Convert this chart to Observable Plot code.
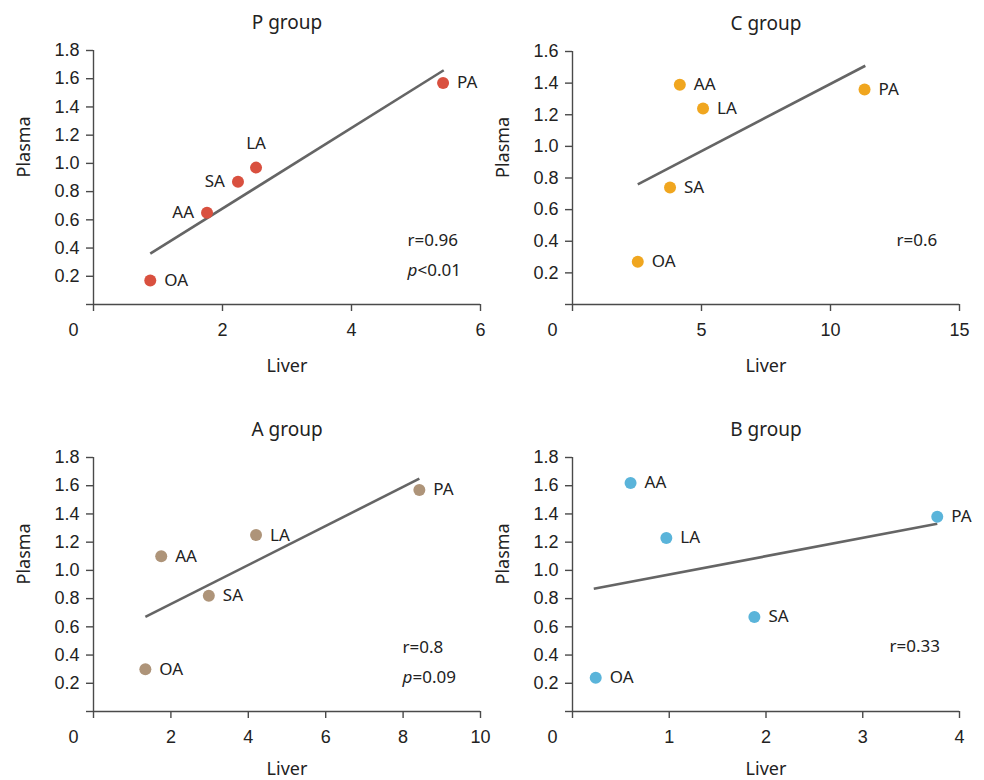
<!DOCTYPE html>
<html><head><meta charset="utf-8">
<script src="https://cdn.jsdelivr.net/npm/d3@7"></script>
<script src="https://cdn.jsdelivr.net/npm/@observablehq/plot@0.6"></script>
<style>
html,body{margin:0;padding:0;background:#fff;}
#wrap{position:relative;width:984px;height:780px;overflow:hidden;background:#fff;}
.panel{position:absolute;}
</style></head><body><div id="wrap"></div>
<script>
// ---- data ----
const acids = ["OA", "AA", "SA", "LA", "PA"];
const groupNames = ["P group", "C group", "A group", "B group"];

const pLiver  = [0.88, 1.76, 2.24, 2.52, 5.42];
const pPlasma = [0.17, 0.65, 0.87, 0.97, 1.57];
const cLiver  = [2.53, 4.16, 3.78, 5.06, 11.32];
const cPlasma = [0.27, 1.39, 0.74, 1.24, 1.36];
const aLiver  = [1.34, 1.75, 2.98, 4.20, 8.42];
const aPlasma = [0.30, 1.10, 0.82, 1.25, 1.57];
const bLiver  = [0.24, 0.60, 1.88, 0.97, 3.77];
const bPlasma = [0.24, 1.62, 0.67, 1.23, 1.38];

// fitted line end points [start, end]
const pFitLiver = [0.88, 5.43], pFitPlasma = [0.36, 1.66];
const cFitLiver = [2.53, 11.35], cFitPlasma = [0.76, 1.51];
const aFitLiver = [1.34, 8.42], aFitPlasma = [0.67, 1.65];
const bFitLiver = [0.22, 3.77], bFitPlasma = [0.87, 1.33];

const rTexts = ["r=0.96", "r=0.6", "r=0.8", "r=0.33"];
const pTexts = ["<0.01", null, "=0.09", null];

const pXTicks = [0, 2, 4, 6];
const cXTicks = [0, 5, 10, 15];
const aXTicks = [0, 2, 4, 6, 8, 10];
const bXTicks = [0, 1, 2, 3, 4];
const yTicks18 = [0, 0.2, 0.4, 0.6, 0.8, 1.0, 1.2, 1.4, 1.6, 1.8];
const yTicks16 = [0, 0.2, 0.4, 0.6, 0.8, 1.0, 1.2, 1.4, 1.6];

// ---- styles / layout ----
const colors = ["#d9503f", "#f0a61f", "#ae9479", "#5ab4da"];
const labelPlacement = [
  ["right", "left", "left", "top", "right"],
  ["right", "right", "right", "right", "right"],
  ["right", "right", "right", "right", "right"],
  ["right", "right", "right", "right", "right"]
];
const layouts = [
  {left: 0,   top: 0,   width: 490, mL: 93, mR: 10, mT: 50, mB: 86, statDx: 314, statDy: 190, xLabDy: 62},
  {left: 490, top: 0,   width: 494, mL: 82, mR: 25, mT: 51, mB: 86, statDx: 324, statDy: 189, xLabDy: 62},
  {left: 0,   top: 400, width: 490, mL: 93, mR: 10, mT: 57, mB: 79, statDx: 309, statDy: 190, xLabDy: 58},
  {left: 490, top: 400, width: 494, mL: 82, mR: 25, mT: 57, mB: 79, statDx: 317, statDy: 189, xLabDy: 58}
];
const panels = [
  {liver: pLiver, plasma: pPlasma, fx: pFitLiver, fy: pFitPlasma, xTicks: pXTicks, yTicks: yTicks18},
  {liver: cLiver, plasma: cPlasma, fx: cFitLiver, fy: cFitPlasma, xTicks: cXTicks, yTicks: yTicks16},
  {liver: aLiver, plasma: aPlasma, fx: aFitLiver, fy: aFitPlasma, xTicks: aXTicks, yTicks: yTicks18},
  {liver: bLiver, plasma: bPlasma, fx: bFitLiver, fy: bFitPlasma, xTicks: bXTicks, yTicks: yTicks18}
];

const TICK_FONT = "'Liberation Sans', Arial, sans-serif";
const TEXT_FONT = "'Noto Sans', 'Open Sans', sans-serif";
const AXIS_COLOR = "#4a4a4a";
const TEXT_COLOR = "#222";

const wrap = document.getElementById("wrap");

panels.forEach((p, i) => {
  const L = layouts[i];
  const rows = acids.map((a, j) => ({acid: a, liver: p.liver[j], plasma: p.plasma[j], pos: labelPlacement[i][j]}));
  const fit = [{x1: p.fx[0], y1: p.fy[0], x2: p.fx[1], y2: p.fy[1]}];
  const xMax = p.xTicks[p.xTicks.length - 1];
  const yMax = p.yTicks[p.yTicks.length - 1];
  const fmtY = d3.format(".1f");
  const txt = {fontFamily: TEXT_FONT, fill: TEXT_COLOR, lineAnchor: "middle"};

  const marks = [
    Plot.ruleY([0], {stroke: AXIS_COLOR, strokeWidth: 1.4}),
    Plot.ruleX([0], {stroke: AXIS_COLOR, strokeWidth: 1.4}),
    Plot.axisY({ticks: p.yTicks, tickSize: 7, tickPadding: 7, label: null,
      tickFormat: d => d === 0 ? "" : fmtY(d),
      stroke: AXIS_COLOR, fill: TEXT_COLOR, strokeWidth: 1.4,
      fontSize: 18, fontFamily: TICK_FONT}),
    Plot.axisX({ticks: p.xTicks, tickSize: 7, tickPadding: 12, label: null,
      tickFormat: d => d === 0 ? "" : String(d),
      stroke: AXIS_COLOR, fill: TEXT_COLOR, strokeWidth: 1.4,
      fontSize: 18, fontFamily: TICK_FONT}),
    Plot.axisX({ticks: [0], tickSize: 0, tickPadding: 19, label: null, dx: -20,
      tickFormat: d => String(d), stroke: "none", fill: TEXT_COLOR,
      fontSize: 18, fontFamily: TICK_FONT}),
    Plot.link(fit, {x1: "x1", y1: "y1", x2: "x2", y2: "y2", stroke: "#656565", strokeWidth: 2.6}),
    Plot.dot(rows, {x: "liver", y: "plasma", r: 6, fill: colors[i], stroke: "none"}),
    Plot.text(rows.filter(d => d.pos === "right"), {x: "liver", y: "plasma", text: "acid", dx: 14,
      textAnchor: "start", fontSize: 17, ...txt}),
    Plot.text(rows.filter(d => d.pos === "left"), {x: "liver", y: "plasma", text: "acid", dx: -13,
      textAnchor: "end", fontSize: 17, ...txt}),
    Plot.text(rows.filter(d => d.pos === "top"), {x: "liver", y: "plasma", text: "acid", dy: -24,
      textAnchor: "middle", fontSize: 17, ...txt}),
    // title
    Plot.text([groupNames[i]], {frameAnchor: "top", dy: -28, text: d => d, fontSize: 19, ...txt}),
    // axis labels
    Plot.text(["Liver"], {frameAnchor: "bottom", dy: L.xLabDy, text: d => d, fontSize: 18, ...txt}),
    Plot.text(["Plasma"], {frameAnchor: "left", dx: -69, rotate: -90, text: d => d, fontSize: 18, ...txt}),
    // stats
    Plot.text([rTexts[i]], {frameAnchor: "top-left", dx: L.statDx, dy: L.statDy, text: d => d,
      textAnchor: "start", fontSize: 17, ...txt})
  ];
  if (pTexts[i]) {
    marks.push(
      Plot.text(["p"], {frameAnchor: "top-left", dx: L.statDx, dy: L.statDy + 30, text: d => d,
        textAnchor: "start", fontSize: 17, fontStyle: "italic", ...txt}),
      Plot.text([pTexts[i]], {frameAnchor: "top-left", dx: L.statDx + 10, dy: L.statDy + 30, text: d => d,
        textAnchor: "start", fontSize: 17, ...txt})
    );
  }

  const chart = Plot.plot({
    width: L.width,
    height: 390,
    marginLeft: L.mL, marginRight: L.mR, marginTop: L.mT, marginBottom: L.mB,
    x: {domain: [0, xMax]},
    y: {domain: [0, yMax]},
    style: {background: "transparent", overflow: "visible", color: TEXT_COLOR},
    marks
  });
  const div = document.createElement("div");
  div.className = "panel";
  div.style.left = L.left + "px";
  div.style.top = L.top + "px";
  div.appendChild(chart);
  wrap.appendChild(div);
});
</script>
</body></html>
